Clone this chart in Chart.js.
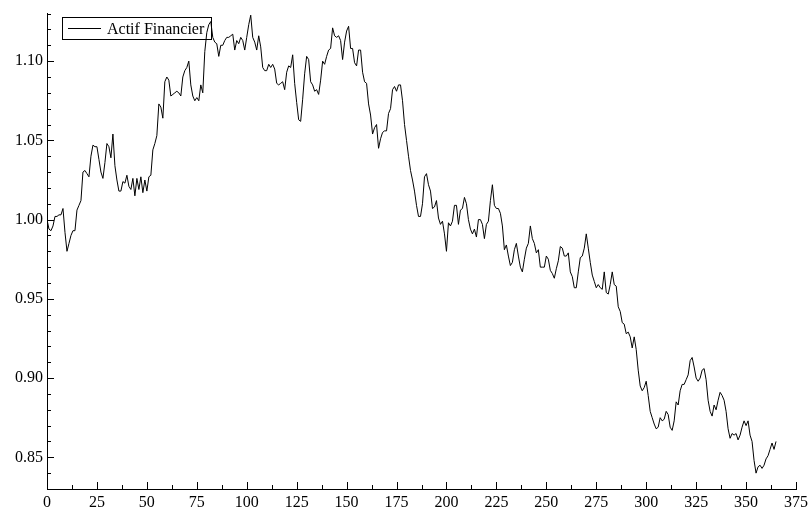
<!DOCTYPE html>
<html>
<head>
<meta charset="utf-8">
<script src="https://cdn.jsdelivr.net/npm/chart.js@4/dist/chart.umd.min.js"></script>
<style>
  html, body { margin: 0; padding: 0; background: #fff; }
  #wrap { width: 812px; height: 513px; }
</style>
</head>
<body>
<div id="wrap"><canvas id="c" width="812" height="513"></canvas></div>
<script>
// Series name
const seriesName = "Actif Financier";
// Daily values (day = index, 0..365)
const values = [
  1.000, 0.994, 0.993, 0.996, 1.002, 1.002, 1.003, 1.003, 1.007, 0.992,
  0.980, 0.985, 0.990, 0.993, 0.993, 1.006, 1.009, 1.012, 1.030, 1.031,
  1.029, 1.027, 1.040, 1.047, 1.046, 1.046, 1.038, 1.030, 1.026, 1.036,
  1.048, 1.046, 1.039, 1.054, 1.034, 1.025, 1.018, 1.018, 1.024, 1.023,
  1.028, 1.021, 1.019, 1.026, 1.015, 1.026, 1.019, 1.027, 1.017, 1.025,
  1.018, 1.027, 1.028, 1.044, 1.048, 1.053, 1.073, 1.071, 1.064, 1.087,
  1.090, 1.088, 1.078, 1.079, 1.080, 1.081, 1.080, 1.078, 1.090, 1.094,
  1.096, 1.100, 1.085, 1.078, 1.075, 1.077, 1.075, 1.085, 1.080, 1.106,
  1.118, 1.123, 1.125, 1.115, 1.112, 1.111, 1.103, 1.110, 1.110, 1.113,
  1.115, 1.115, 1.116, 1.117, 1.107, 1.113, 1.111, 1.115, 1.113, 1.107,
  1.115, 1.123, 1.129, 1.115, 1.112, 1.107, 1.116, 1.109, 1.096, 1.094,
  1.094, 1.098, 1.096, 1.098, 1.095, 1.086, 1.085, 1.086, 1.087, 1.082,
  1.093, 1.097, 1.096, 1.104, 1.086, 1.074, 1.063, 1.062, 1.076, 1.092,
  1.103, 1.101, 1.087, 1.085, 1.081, 1.082, 1.079, 1.088, 1.100, 1.098,
  1.103, 1.107, 1.108, 1.121, 1.116, 1.115, 1.116, 1.113, 1.101, 1.112,
  1.119, 1.122, 1.108, 1.108, 1.099, 1.097, 1.107, 1.107, 1.093, 1.087,
  1.086, 1.073, 1.066, 1.054, 1.058, 1.060, 1.045, 1.051, 1.055, 1.056,
  1.056, 1.067, 1.070, 1.082, 1.084, 1.081, 1.085, 1.085, 1.075, 1.060,
  1.050, 1.040, 1.031, 1.025, 1.018, 1.009, 1.002, 1.002, 1.010, 1.027,
  1.029, 1.022, 1.018, 1.007, 1.008, 1.012, 1.001, 0.997, 0.999, 0.991,
  0.980, 0.998, 0.996, 0.999, 1.009, 1.009, 0.997, 1.006, 1.007, 1.014,
  1.010, 1.000, 0.994, 0.991, 0.994, 0.989, 1.000, 1.000, 0.997, 0.988,
  0.997, 0.999, 1.012, 1.022, 1.009, 1.007, 1.007, 1.004, 0.996, 0.981,
  0.984, 0.977, 0.971, 0.973, 0.981, 0.985, 0.977, 0.970, 0.967, 0.975,
  0.982, 0.985, 0.996, 0.988, 0.985, 0.979, 0.981, 0.970, 0.970, 0.970,
  0.977, 0.975, 0.968, 0.966, 0.963, 0.969, 0.974, 0.983, 0.982, 0.977,
  0.977, 0.979, 0.967, 0.964, 0.957, 0.957, 0.967, 0.976, 0.977, 0.982,
  0.991, 0.982, 0.973, 0.965, 0.961, 0.957, 0.959, 0.957, 0.956, 0.967,
  0.954, 0.953, 0.959, 0.967, 0.959, 0.958, 0.945, 0.942, 0.935, 0.934,
  0.928, 0.929, 0.926, 0.919, 0.926, 0.918, 0.905, 0.895, 0.892, 0.894,
  0.898, 0.889, 0.879, 0.875, 0.871, 0.868, 0.869, 0.875, 0.873, 0.874,
  0.879, 0.877, 0.869, 0.867, 0.873, 0.885, 0.883, 0.892, 0.896, 0.896,
  0.899, 0.902, 0.911, 0.913, 0.907, 0.900, 0.898, 0.900, 0.905, 0.906,
  0.899, 0.886, 0.879, 0.876, 0.883, 0.880, 0.886, 0.891, 0.889, 0.886,
  0.879, 0.868, 0.862, 0.865, 0.864, 0.865, 0.861, 0.864, 0.869, 0.873,
  0.870, 0.873, 0.864, 0.860, 0.848, 0.840, 0.844, 0.845, 0.843, 0.845,
  0.849, 0.851, 0.855, 0.859, 0.855, 0.860
];
// Tick labels
const xTickValues = [0, 25, 50, 75, 100, 125, 150, 175, 200, 225, 250, 275, 300, 325, 350, 375];
const yTickValues = [0.85, 0.90, 0.95, 1.00, 1.05, 1.10];

const points = values.map((v, i) => ({ x: i, y: v }));
const FONT = "'Liberation Serif', 'Times New Roman', serif";

const tickPlugin = {
  id: 'innerTicks',
  afterDraw(chart) {
    const ctx = chart.ctx;
    const xs = chart.scales.x, ys = chart.scales.y;
    const area = chart.chartArea;
    ctx.save();
    ctx.strokeStyle = '#000';
    ctx.lineWidth = 1;
    ctx.beginPath();
    // x ticks: major every 25, minor every 12.5
    for (let k = 0; k <= 30; k++) {
      const v = k * 12.5;
      const px = Math.round(xs.getPixelForValue(v)) + 0.5;
      const len = (k % 2 === 0) ? 7 : 4;
      ctx.moveTo(px, area.bottom);
      ctx.lineTo(px, area.bottom - len);
    }
    // y ticks: major every 0.05, minor every 0.01
    for (let k = 84; k <= 113; k++) {
      const v = k / 100;
      const py = Math.round(ys.getPixelForValue(v)) + 0.5;
      const len = (k % 5 === 0) ? 7 : 4;
      ctx.moveTo(area.left, py);
      ctx.lineTo(area.left + len, py);
    }
    ctx.stroke();
    ctx.restore();
  }
};

const legendPlugin = {
  id: 'boxLegend',
  beforeDatasetsDraw(chart) {
    const ctx = chart.ctx;
    ctx.save();
    ctx.fillStyle = '#fff';
    ctx.fillRect(62, 17, 149, 22);
    ctx.strokeStyle = '#000';
    ctx.lineWidth = 1;
    ctx.strokeRect(62.5, 17.5, 149, 22);
    ctx.beginPath();
    ctx.moveTo(68, 28.5);
    ctx.lineTo(101, 28.5);
    ctx.stroke();
    ctx.fillStyle = '#000';
    ctx.font = "16px " + FONT;
    ctx.textBaseline = 'alphabetic';
    ctx.textAlign = 'left';
    ctx.fillText(seriesName, 107, 34);
    ctx.restore();
  }
};

new Chart(document.getElementById('c'), {
  type: 'line',
  data: {
    datasets: [{
      label: seriesName,
      data: points,
      borderColor: '#000',
      borderWidth: 1,
      pointRadius: 0,
      tension: 0,
      fill: false
    }]
  },
  options: {
    responsive: false,
    animation: false,
    devicePixelRatio: 1,
    layout: { padding: { left: 0, right: 16, top: 8, bottom: 0 } },
    plugins: { legend: { display: false }, tooltip: { enabled: false } },
    scales: {
      x: {
        type: 'linear',
        min: 0,
        max: 375,
        afterBuildTicks: (s) => { s.ticks = xTickValues.map(v => ({ value: v })); },
        afterFit: (s) => { s.height = 24; },
        grid: { display: false, drawTicks: false },
        border: { display: true, color: '#000', width: 1 },
        ticks: {
          color: '#000',
          font: { family: FONT, size: 16 },
          padding: 4,
          maxRotation: 0,
          autoSkip: false,
          callback: (v) => String(v)
        }
      },
      y: {
        type: 'linear',
        min: 0.83,
        max: 1.13,
        afterBuildTicks: (s) => { s.ticks = yTickValues.map(v => ({ value: v })); },
        afterFit: (s) => { s.width = 47; },
        grid: { display: false, drawTicks: false },
        border: { display: true, color: '#000', width: 1 },
        ticks: {
          color: '#000',
          font: { family: FONT, size: 16 },
          padding: 4,
          autoSkip: false,
          callback: (v) => Number(v).toFixed(2)
        }
      }
    }
  },
  plugins: [tickPlugin, legendPlugin]
});
</script>
</body>
</html>
